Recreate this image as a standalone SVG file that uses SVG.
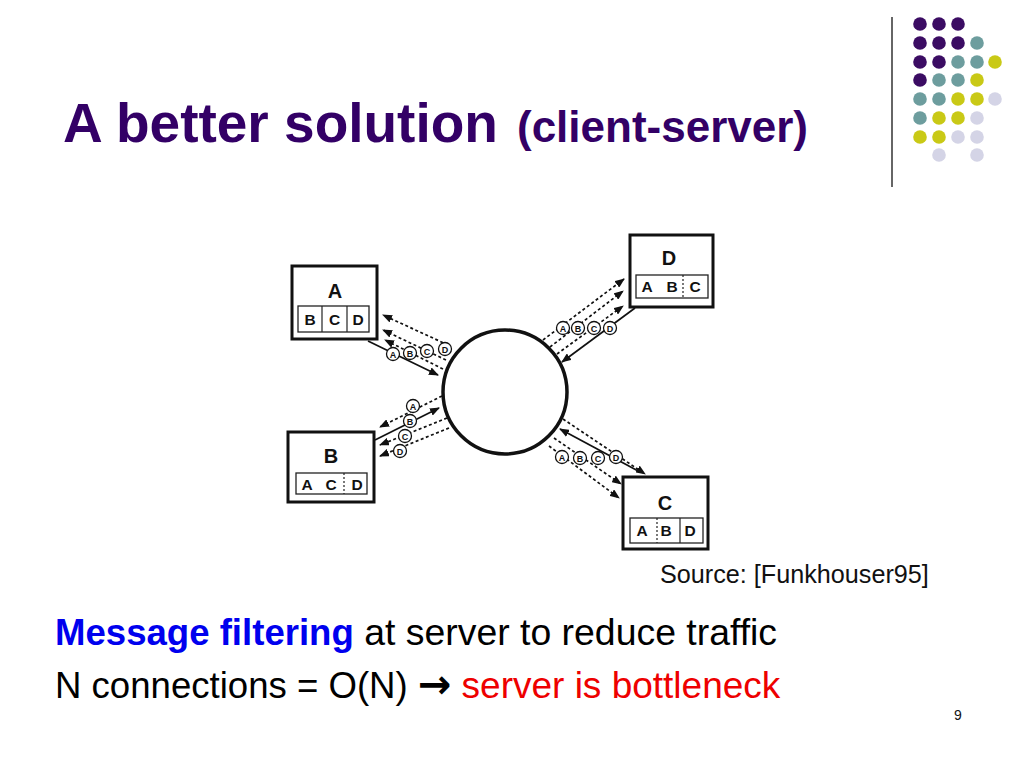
<svg xmlns="http://www.w3.org/2000/svg" width="1024" height="768" viewBox="0 0 1024 768">
<style>
  text { font-family: "Liberation Sans", Arial, sans-serif; }
  .title { fill: #330066; font-weight: bold; }
  .box { fill: #ffffff; stroke: #111; stroke-width: 3; }
  .strip { fill: none; stroke: #222; stroke-width: 1.3; }
  .div { stroke: #222; stroke-width: 1.2; }
  .dotdiv { stroke: #222; stroke-width: 1.2; stroke-dasharray: 2 2; }
  .lbl { font-size: 20px; font-weight: bold; text-anchor: middle; fill: #111; }
  .ilbl { font-size: 15.5px; font-weight: bold; text-anchor: middle; fill: #111; }
  .dash { stroke: #111; stroke-width: 1.7; stroke-dasharray: 3 2.5; fill: none; marker-end: url(#ah); }
  .solid { stroke: #111; stroke-width: 1.7; fill: none; marker-end: url(#ah); }
  .cl circle { fill: #fff; stroke: #111; stroke-width: 1.3; }
  .cl text { font-size: 9px; font-weight: bold; text-anchor: middle; fill: #111; }
  .pu { fill: #3b0c63; } .te { fill: #6d9d9e; } .ye { fill: #c9c916; } .la { fill: #d4d4e6; }
</style>
<defs>
  <marker id="ah" markerWidth="10" markerHeight="8" refX="9" refY="4" orient="auto" markerUnits="userSpaceOnUse">
    <path d="M0,0 L10,4 L0,8 Z" fill="#111"/>
  </marker>
</defs>
<rect width="1024" height="768" fill="#ffffff"/>

<!-- Decoration -->
<g id="decoration">
  <line x1="892" y1="17" x2="892" y2="187" stroke="#333" stroke-width="1.5"/>
  <g>
    <circle class="pu" cx="920" cy="24" r="6.8"/><circle class="pu" cx="939" cy="24" r="6.8"/><circle class="pu" cx="958" cy="24" r="6.8"/>
    <circle class="pu" cx="920" cy="43" r="6.8"/><circle class="pu" cx="939" cy="43" r="6.8"/><circle class="pu" cx="958" cy="43" r="6.8"/><circle class="te" cx="977" cy="43" r="6.8"/>
    <circle class="pu" cx="920" cy="62" r="6.8"/><circle class="pu" cx="939" cy="62" r="6.8"/><circle class="te" cx="958" cy="62" r="6.8"/><circle class="te" cx="977" cy="62" r="6.8"/><circle class="ye" cx="995" cy="62" r="6.8"/>
    <circle class="pu" cx="920" cy="80" r="6.8"/><circle class="te" cx="939" cy="80" r="6.8"/><circle class="te" cx="958" cy="80" r="6.8"/><circle class="ye" cx="977" cy="80" r="6.8"/>
    <circle class="te" cx="920" cy="99" r="6.8"/><circle class="te" cx="939" cy="99" r="6.8"/><circle class="ye" cx="958" cy="99" r="6.8"/><circle class="ye" cx="977" cy="99" r="6.8"/><circle class="la" cx="995" cy="99" r="6.8"/>
    <circle class="te" cx="920" cy="118" r="6.8"/><circle class="ye" cx="939" cy="118" r="6.8"/><circle class="ye" cx="958" cy="118" r="6.8"/><circle class="la" cx="977" cy="118" r="6.8"/>
    <circle class="ye" cx="920" cy="137" r="6.8"/><circle class="ye" cx="939" cy="137" r="6.8"/><circle class="la" cx="958" cy="137" r="6.8"/><circle class="la" cx="977" cy="137" r="6.8"/>
    <circle class="la" cx="939" cy="155" r="6.8"/><circle class="la" cx="977" cy="155" r="6.8"/>
  </g>
</g>

<!-- Title -->
<text class="title" x="63" y="142" font-size="55">A better solution</text>
<text class="title" x="517" y="142" font-size="44">(client-server)</text>

<!-- Connectors -->
<g id="connectors">
  <!-- A -->
  <line class="dash" x1="448" y1="345" x2="383" y2="315"/>
  <line class="dash" x1="446" y1="360" x2="383" y2="330"/>
  <line class="dash" x1="443" y1="369" x2="385" y2="340"/>
  <line class="solid" x1="368" y1="341" x2="438" y2="375"/>
  <!-- D -->
  <line class="dash" x1="543" y1="340" x2="624" y2="279"/>
  <line class="dash" x1="550" y1="347" x2="623" y2="291"/>
  <line class="dash" x1="557" y1="354" x2="623" y2="306"/>
  <line class="solid" x1="635" y1="308" x2="562" y2="362"/>
  <!-- B -->
  <line class="dash" x1="442" y1="396" x2="380" y2="427"/>
  <line class="dash" x1="447" y1="418" x2="380" y2="445"/>
  <line class="dash" x1="449" y1="428" x2="380" y2="456"/>
  <line class="solid" x1="375" y1="440" x2="439" y2="408"/>
  <!-- C -->
  <line class="dash" x1="563" y1="419" x2="645" y2="474"/>
  <line class="dash" x1="554" y1="438" x2="621" y2="484"/>
  <line class="dash" x1="549" y1="446" x2="619" y2="498"/>
  <line class="solid" x1="640" y1="472" x2="560" y2="429"/>
</g>

<!-- Server -->
<g id="server">
  <circle cx="505" cy="392" r="62" fill="#fff" stroke="#111" stroke-width="3.5"/>
</g>

<!-- Message labels -->
<g id="msgs-A" class="cl">
  <circle cx="393" cy="354" r="6.5"/><text x="393" y="357.5">A</text>
  <circle cx="410" cy="353" r="6.5"/><text x="410" y="356.5">B</text>
  <circle cx="427" cy="351" r="6.5"/><text x="427" y="354.5">C</text>
  <circle cx="445" cy="349" r="6.5"/><text x="445" y="352.5">D</text>
</g>
<g id="msgs-D" class="cl">
  <circle cx="563" cy="328" r="6.5"/><text x="563" y="331.5">A</text>
  <circle cx="578" cy="328" r="6.5"/><text x="578" y="331.5">B</text>
  <circle cx="594" cy="328" r="6.5"/><text x="594" y="331.5">C</text>
  <circle cx="610" cy="328" r="6.5"/><text x="610" y="331.5">D</text>
</g>
<g id="msgs-B" class="cl">
  <circle cx="413" cy="406" r="6.5"/><text x="413" y="409.5">A</text>
  <circle cx="410" cy="421" r="6.5"/><text x="410" y="424.5">B</text>
  <circle cx="405" cy="436" r="6.5"/><text x="405" y="439.5">C</text>
  <circle cx="400" cy="451" r="6.5"/><text x="400" y="454.5">D</text>
</g>
<g id="msgs-C" class="cl">
  <circle cx="562" cy="457" r="6.5"/><text x="562" y="460.5">A</text>
  <circle cx="580" cy="458" r="6.5"/><text x="580" y="461.5">B</text>
  <circle cx="598" cy="458" r="6.5"/><text x="598" y="461.5">C</text>
  <circle cx="616" cy="457" r="6.5"/><text x="616" y="460.5">D</text>
</g>

<!-- Client A -->
<g id="node-A">
  <rect class="box" x="292" y="266" width="85" height="73"/>
  <text class="lbl" x="335" y="298">A</text>
  <rect class="strip" x="298" y="306" width="71" height="26"/>
  <line class="div" x1="322" y1="306" x2="322" y2="332"/>
  <line class="div" x1="347" y1="306" x2="347" y2="332"/>
  <text class="ilbl" x="310" y="325">B</text>
  <text class="ilbl" x="334.5" y="325">C</text>
  <text class="ilbl" x="358" y="325">D</text>
</g>

<!-- Client D -->
<g id="node-D">
  <rect class="box" x="630" y="235" width="83" height="72"/>
  <text class="lbl" x="669" y="265">D</text>
  <rect class="strip" x="636" y="275" width="72" height="23"/>
  <line class="dotdiv" x1="683" y1="275" x2="683" y2="298"/>
  <text class="ilbl" x="647" y="292">A</text>
  <text class="ilbl" x="672" y="292">B</text>
  <text class="ilbl" x="695" y="292">C</text>
</g>

<!-- Client B -->
<g id="node-B">
  <rect class="box" x="288" y="432" width="86" height="70"/>
  <text class="lbl" x="331" y="463">B</text>
  <rect class="strip" x="296" y="473" width="71" height="21"/>
  <line class="dotdiv" x1="344" y1="473" x2="344" y2="494"/>
  <text class="ilbl" x="307" y="489.5">A</text>
  <text class="ilbl" x="331" y="489.5">C</text>
  <text class="ilbl" x="357" y="489.5">D</text>
</g>

<!-- Client C -->
<g id="node-C">
  <rect class="box" x="623" y="477" width="85" height="72"/>
  <text class="lbl" x="665" y="510">C</text>
  <rect class="strip" x="630" y="518" width="73" height="25"/>
  <line class="dotdiv" x1="657" y1="518" x2="657" y2="543"/>
  <line class="div" x1="680" y1="518" x2="680" y2="543"/>
  <text class="ilbl" x="642" y="536">A</text>
  <text class="ilbl" x="666" y="536">B</text>
  <text class="ilbl" x="690" y="536">D</text>
</g>

<!-- Source -->
<text x="660" y="583" font-size="25.2" fill="#111">Source: [Funkhouser95]</text>

<!-- Bullets -->
<text x="55" y="645" font-size="37.4" fill="#000"><tspan fill="#0000ee" font-weight="bold" font-size="36.6">Message filtering</tspan> at server to reduce traffic</text>
<text x="55" y="698" font-size="36.6" fill="#000">N connections = O(N) <tspan font-family="DejaVu Sans, sans-serif" font-weight="bold" font-size="40">→</tspan> <tspan fill="#ee0000" font-size="37">server is bottleneck</tspan></text>

<!-- Page number -->
<text x="958" y="720" font-size="14" text-anchor="middle" fill="#111">9</text>
</svg>
